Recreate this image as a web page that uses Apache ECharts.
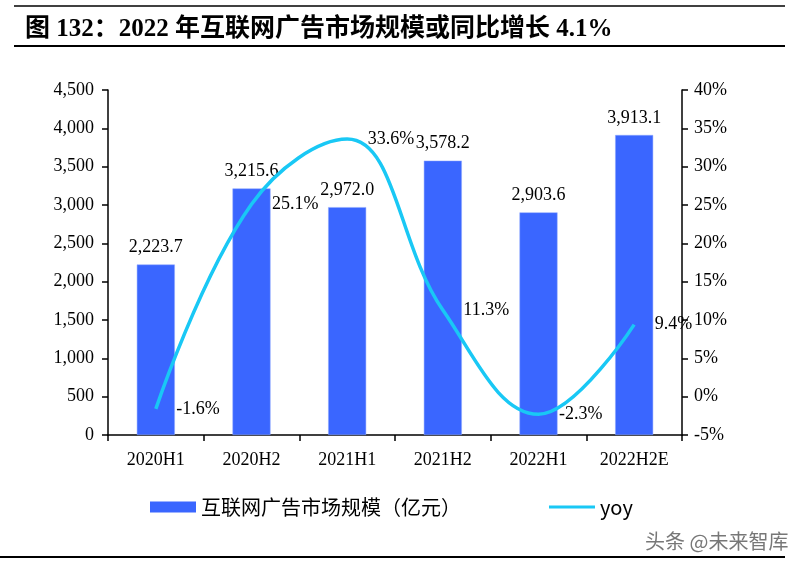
<!DOCTYPE html>
<html>
<head>
<meta charset="utf-8">
<script src="https://cdn.jsdelivr.net/npm/echarts@6/dist/echarts.min.js"></script>
<style>html,body{margin:0;padding:0;background:#fff}#c{width:801px;height:565px}</style>
</head>
<body>
<div id="c"></div>
<script>
const categories = ['2020H1', '2020H2', '2021H1', '2021H2', '2022H1', '2022H2E'];
const marketSize = [2223.7, 3215.6, 2972.0, 3578.2, 2903.6, 3913.1];
const yoy = [-1.6, 25.1, 33.6, 11.3, -2.3, 9.4];
const leftTicks = { min: 0, max: 4500, interval: 500 };
const rightTicks = { min: -5, max: 40, interval: 5 };
const titleText = '图 132：2022 年互联网广告市场规模或同比增长 4.1%';
const barName = '互联网广告市场规模（亿元）';
const lineName = 'yoy';

const SERIF = '"Liberation Serif", "Times New Roman", "Noto Sans CJK SC", serif';
const CJK = '"Noto Sans CJK SC", "Liberation Serif", sans-serif';
function fmtThousands(v, d) {
  const s = Number(v).toFixed(d);
  const parts = s.split('.');
  parts[0] = parts[0].replace(/\B(?=(\d{3})+(?!\d))/g, ',');
  return parts.join('.');
}

const chart = echarts.init(document.getElementById('c'), null, { renderer: 'canvas' });
chart.setOption({
  backgroundColor: '#fff',
  animation: false,
  title: {
    text: titleText,
    left: 20, top: 12,
    textStyle: { fontFamily: SERIF, fontWeight: 'bold', fontSize: 25, color: '#000' }
  },
  graphic: [
    { type: 'line', shape: { x1: 14, y1: 6, x2: 785, y2: 6 }, style: { stroke: '#000', lineWidth: 1.5 } },
    { type: 'line', shape: { x1: 14, y1: 46, x2: 785, y2: 46 }, style: { stroke: '#000', lineWidth: 2 } },
    { type: 'line', shape: { x1: 0, y1: 557, x2: 785, y2: 557 }, style: { stroke: '#000', lineWidth: 2 } },
    { type: 'text', left: 645, top: 531, style: { text: '头条 @未来智库', fontFamily: CJK, fontSize: 20, fill: '#555', opacity: 0.8 } }
  ],
  grid: { left: 108, right: 119, top: 90, bottom: 130, containLabel: false },
  legend: {
    left: 150, top: 497,
    padding: 0,
    itemGap: 88,
    itemWidth: 46, itemHeight: 11,
    textStyle: { fontFamily: CJK, fontSize: 20, color: '#000' },
    data: [
      { name: barName, icon: 'rect', itemStyle: { color: '#3A66FF', borderWidth: 0 } },
      { name: lineName, icon: 'path://M0,0 M0,11 M0,4 L46,4 L46,7 L0,7 Z', itemStyle: { color: '#19C8F5', borderWidth: 0 } }
    ]
  },
  xAxis: {
    type: 'category',
    data: categories,
    boundaryGap: true,
    axisLine: { lineStyle: { color: '#000', width: 1.5 } },
    axisTick: { show: true, alignWithLabel: false, length: 6, lineStyle: { color: '#000', width: 1.5 } },
    axisLabel: { fontFamily: SERIF, fontSize: 18, color: '#000', margin: 16 },
    splitLine: { show: false }
  },
  yAxis: [
    {
      type: 'value',
      min: leftTicks.min, max: leftTicks.max, interval: leftTicks.interval,
      axisLine: { show: true, lineStyle: { color: '#000', width: 1.5 } },
      axisTick: { show: true, length: 6, lineStyle: { color: '#000', width: 1.5 } },
      axisLabel: { fontFamily: SERIF, fontSize: 18, color: '#000', margin: 14, formatter: v => fmtThousands(v, 0) },
      splitLine: { show: false }
    },
    {
      type: 'value',
      min: rightTicks.min, max: rightTicks.max, interval: rightTicks.interval,
      axisLine: { show: true, lineStyle: { color: '#000', width: 1.5 } },
      axisTick: { show: true, length: 6, lineStyle: { color: '#000', width: 1.5 } },
      axisLabel: { fontFamily: SERIF, fontSize: 18, color: '#000', margin: 12, formatter: '{value}%' },
      splitLine: { show: false }
    }
  ],
  series: [
    {
      name: barName,
      type: 'bar',
      data: marketSize,
      barWidth: 38,
      itemStyle: { color: '#3A66FF', borderColor: '#8FA8FF', borderWidth: 0.5 },
      label: {
        show: true, position: 'top', distance: 8,
        fontFamily: SERIF, fontSize: 18, color: '#000',
        formatter: p => fmtThousands(p.value, 1)
      },
      z: 2
    },
    {
      name: lineName,
      type: 'line',
      yAxisIndex: 1,
      data: yoy,
      smooth: 0.4,
      symbol: 'none',
      lineStyle: { color: '#19C8F5', width: 3.5 },
      itemStyle: { color: '#19C8F5' },
      z: 3
    },
    {
      name: 'yoy-label',
      type: 'line',
      yAxisIndex: 1,
      data: yoy,
      symbol: 'circle',
      symbolSize: 1,
      lineStyle: { width: 0, opacity: 0 },
      itemStyle: { color: 'rgba(0,0,0,0)' },
      label: {
        show: true, position: 'right', distance: 20,
        fontFamily: SERIF, fontSize: 18, color: '#000',
        formatter: p => p.value.toFixed(1) + '%'
      },
      labelLayout: { hideOverlap: false },
      z: 4
    }
  ]
});
</script>
</body>
</html>
